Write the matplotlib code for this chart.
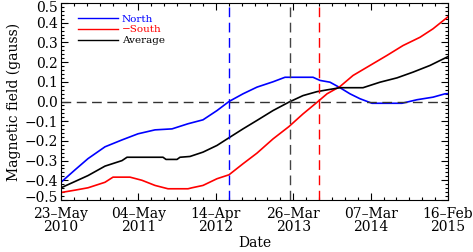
import numpy as np
import matplotlib
matplotlib.use("Agg")
import matplotlib.pyplot as plt
from matplotlib.ticker import AutoMinorLocator
import matplotlib.transforms as mtransforms

plt.rcParams['font.family'] = ['DejaVu Serif']

# x pixel readings converted to days since 2010-05-23
def px2day(p):
    return [(x - 61) * 1730.0 / 387.0 for x in p]

north_px = [61, 75, 88, 105, 122, 138, 155, 172, 188, 203, 217, 229, 243, 257, 273,
            285, 313, 320, 330, 340, 350, 360, 372, 402, 417, 433, 445, 448]
north_val = [-0.41, -0.347, -0.29, -0.23, -0.195, -0.164, -0.144, -0.139, -0.113, -0.093,
             -0.046, 0.0, 0.039, 0.073, 0.10, 0.123, 0.123, 0.107, 0.098, 0.07, 0.039,
             0.014, -0.009, -0.009, 0.009, 0.022, 0.039, 0.04]

south_px = [61, 75, 88, 105, 113, 130, 142, 155, 168, 188, 192, 203, 217, 229, 243, 257,
            273, 289, 303, 318, 327, 340, 353, 370, 387, 403, 420, 433, 448]
south_val = [-0.462, -0.45, -0.438, -0.41, -0.384, -0.384, -0.40, -0.426, -0.443, -0.443,
             -0.438, -0.426, -0.392, -0.372, -0.316, -0.262, -0.19, -0.127, -0.063, 0.0,
             0.039, 0.076, 0.132, 0.183, 0.234, 0.284, 0.326, 0.369, 0.43]

avg_px = [61, 75, 88, 105, 122, 127, 163, 166, 177, 180, 190, 203, 217, 229, 243, 257,
          273, 289, 303, 317, 327, 333, 340, 363, 380, 397, 413, 430, 448]
avg_val = [-0.438, -0.406, -0.376, -0.328, -0.30, -0.283, -0.283, -0.294, -0.294, -0.283,
           -0.279, -0.257, -0.223, -0.184, -0.139, -0.096, -0.046, -0.003, 0.03, 0.05,
           0.059, 0.064, 0.07, 0.07, 0.098, 0.12, 0.149, 0.183, 0.228]

tick_days = [0, 346, 692, 1038, 1384, 1730]
tick_labels = ['23\u2013May\n2010', '04\u2013May\n2011', '14\u2013Apr\n2012',
               '26\u2013Mar\n2013', '07\u2013Mar\n2014', '16\u2013Feb\n2015']
ytick_vals = [-0.5, -0.4, -0.3, -0.2, -0.1, 0.0, 0.1, 0.2, 0.3, 0.4, 0.5]
ytick_labels = ['\u22120.5', '\u22120.4', '\u22120.3', '\u22120.2', '\u22120.1', '0.0',
                '0.1', '0.2', '0.3', '0.4', '0.5']

vline_days = [751, 1024, 1153]
vline_colors = ['#0000ff', '#444444', '#ff0000']

FS = 10

fig = plt.figure(figsize=(4.73, 2.52), dpi=100)
ax = fig.add_axes([61/473, 1 - 200/252, (448-61)/473, (200-3)/252])

ax.plot(px2day(north_px), north_val, color='#0000ff', lw=1.2, label='North')
ax.plot(px2day(south_px), south_val, color='#ff0000', lw=1.2, label='\u2212South')
ax.plot(px2day(avg_px), avg_val, color='black', lw=1.2, label='Average')

ax.axhline(0.0, color='#333333', lw=1.0, ls=(0, (7, 4)))
for d, c in zip(vline_days, vline_colors):
    ax.axvline(d, color=c, lw=1.0, ls=(0, (7, 4)))

ax.set_xlim(0, 1730)
ax.set_ylim(-0.5, 0.5)
ax.set_xticks(tick_days)
ax.set_xticklabels(tick_labels, fontsize=FS, linespacing=0.92)
ax.set_yticks(ytick_vals)
ax.set_yticklabels(ytick_labels, fontsize=FS)
ax.xaxis.set_minor_locator(AutoMinorLocator(6))
ax.yaxis.set_minor_locator(AutoMinorLocator(5))
ax.tick_params(which='both', direction='in', top=True, right=True, width=0.8)
ax.tick_params(which='major', length=5, pad=2)
ax.tick_params(which='minor', length=2.5)
ax.tick_params(axis='x', which='major', pad=5)
for s in ax.spines.values():
    s.set_linewidth(0.8)

# shift the end y labels inward so they stay in the figure
ylabs = ax.get_yticklabels()
ylabs[0].set_transform(ylabs[0].get_transform() +
                       mtransforms.ScaledTranslation(0, 3/100, fig.dpi_scale_trans))
ylabs[-1].set_transform(ylabs[-1].get_transform() +
                        mtransforms.ScaledTranslation(0, -4/100, fig.dpi_scale_trans))

ax.set_xlabel('Date', fontsize=FS, labelpad=1.5)
ax.set_ylabel('Magnetic field (gauss)', fontsize=FS, labelpad=3)

leg = ax.legend(loc='upper left', frameon=False, fontsize=7.5, handlelength=3.8,
                handletextpad=0.4, labelspacing=0.15, borderaxespad=0.3,
                bbox_to_anchor=(0.025, 0.98))
for t, l in zip(leg.get_texts(), leg.get_lines()):
    t.set_color(l.get_color())
    l.set_linewidth(1.0)

fig.savefig('out.png', dpi=100)
